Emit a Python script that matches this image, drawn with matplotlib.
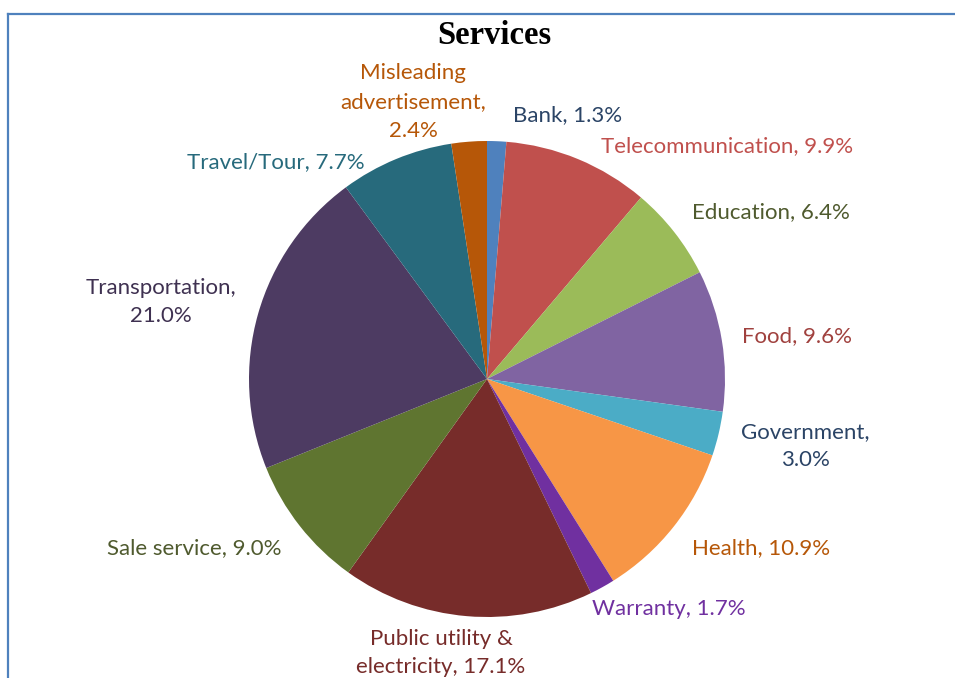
import matplotlib
matplotlib.use("Agg")
import matplotlib.pyplot as plt
from matplotlib.lines import Line2D

# Share of complaints per service category (%)
categories = ["Bank", "Telecommunication", "Education", "Food", "Government",
              "Health", "Warranty", "Public utility &\nelectricity", "Sale service",
              "Transportation", "Travel/Tour", "Misleading\nadvertisement"]
shares = [1.3, 9.9, 6.4, 9.6, 3.0, 10.9, 1.7, 17.1, 9.0, 21.0, 7.7, 2.4]

wedge_colors = ["#4F81BD", "#C0504D", "#9BBB59", "#8064A2", "#4BACC6", "#F79646",
                "#7030A0", "#772C2A", "#5F7530", "#4D3B62", "#276A7C", "#B65708"]
label_colors = ["#2B4466", "#C0504D", "#4F5A2E", "#A0413E", "#2B4466", "#B65708",
                "#7030A0", "#772C2A", "#4F5A2E", "#3F3151", "#276A7C", "#B65708"]

# label text layout: some labels wrap before the percentage
label_texts = []
for name, v in zip(categories, shares):
    if name in ("Government", "Transportation") or name.startswith("Misleading"):
        label_texts.append(f"{name},\n{v:.1f}%")
    elif name.startswith("Public"):
        label_texts.append(f"Public utility &\nelectricity, {v:.1f}%")
    else:
        label_texts.append(f"{name}, {v:.1f}%")

# label anchor points in figure pixel space (x right, y up)
label_pos = [(568, 563), (727, 532), (771, 466), (797, 342), (805, 232),
             (761, 130), (669, 69), (441, 25), (194, 130), (161, 376),
             (276, 516), (413, 576)]

W, H = 955, 678
fig = plt.figure(figsize=(W / 100, H / 100), dpi=100)
ax = fig.add_axes([0, 0, 1, 1])
ax.set_xlim(0, W)
ax.set_ylim(0, H)
ax.set_aspect("equal")
ax.axis("off")

center = (487, 299)
radius = 238

wedges, texts = ax.pie(shares, colors=wedge_colors, startangle=90, counterclock=False,
                       center=center, radius=radius, labels=label_texts,
                       wedgeprops=dict(linewidth=0),
                       textprops=dict(fontsize=16, family=["Lato", "DejaVu Sans"]))
ax.set_xlim(0, W)
ax.set_ylim(0, H)

for t, c, p in zip(texts, label_colors, label_pos):
    t.set_position(p)
    t.set_color(c)
    t.set_ha("center")
    t.set_va("center")
    t.set_multialignment("center")
    t.set_linespacing(1.55)

ax.text(494, H - 36, "Services", ha="center", va="center", fontsize=23.5,
        fontweight="bold", family="Liberation Serif", color="black")

# frame lines along the top and left edge
fig.add_artist(Line2D([8 / W, 1], [1 - 13.5 / H, 1 - 13.5 / H], transform=fig.transFigure,
                      color="#4F81BD", linewidth=1.6))
fig.add_artist(Line2D([8 / W, 8 / W], [0, 1 - 13.5 / H], transform=fig.transFigure,
                      color="#4F81BD", linewidth=1.6))

fig.savefig("out.png", dpi=100)
